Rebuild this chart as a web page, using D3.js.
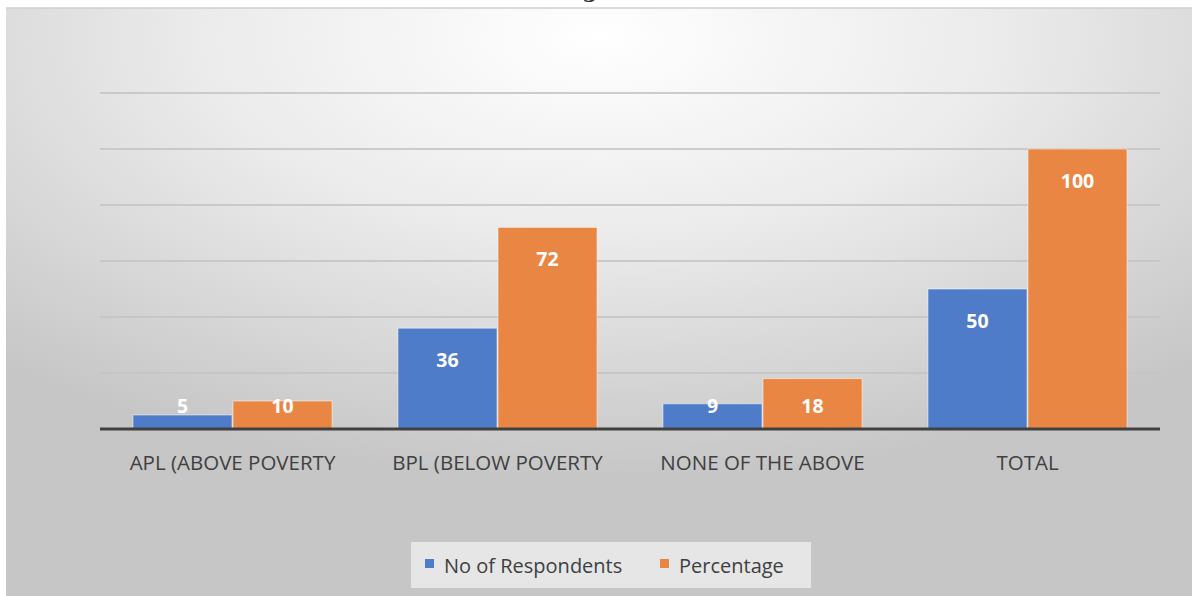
<!DOCTYPE html>
<html><head><meta charset="utf-8">
<script src="https://cdn.jsdelivr.net/npm/d3@7"></script>
<style>html,body{margin:0;padding:0;background:#fff;overflow:hidden}</style>
</head><body>
<svg id="chart" width="1192" height="596"></svg>
<script>
const categories = ["APL (ABOVE POVERTY", "BPL (BELOW POVERTY", "NONE OF THE ABOVE", "TOTAL"];
const seriesNames = ["No of Respondents", "Percentage"];
const respondents = [5, 36, 9, 50];
const percentage = [10, 72, 18, 100];
const yTicks = [0, 20, 40, 60, 80, 100, 120];
const colors = ["#4f7cc9", "#ea8644"];

const svg = d3.select("#chart");
const defs = svg.append("defs");
const grad = defs.append("radialGradient").attr("id","bg")
  .attr("cx","50%").attr("cy","5%").attr("r","75%").attr("fx","50%").attr("fy","5%");
grad.append("stop").attr("offset","0%").attr("stop-color","#ffffff");
grad.append("stop").attr("offset","45%").attr("stop-color","#ebebeb");
grad.append("stop").attr("offset","100%").attr("stop-color","#c6c6c6");

svg.append("rect").attr("x",0).attr("y",0).attr("width",1192).attr("height",596).attr("fill","#fff");
svg.append("text").attr("x",590).attr("y",-3).attr("text-anchor","middle")
  .attr("font-family","DejaVu Serif").attr("font-weight","bold").attr("font-size",22).attr("fill","#333").text("g");
svg.append("rect").attr("x",6).attr("y",8).attr("width",1186).attr("height",588).attr("fill","url(#bg)");
svg.append("line").attr("x1",6).attr("x2",1192).attr("y1",8).attr("y2",8).attr("stroke","#cfcfcf").attr("stroke-width",1.5);

const x0 = d3.scaleBand().domain(categories).range([100,1160]).paddingInner(0.245).paddingOuter(0.1225);
const x1 = d3.scaleBand().domain(seriesNames).range([0, x0.bandwidth()]).padding(0);
const y = d3.scaleLinear().domain([0,120]).range([429,93]);

const grid = svg.append("g");
grid.selectAll("line").data(yTicks.slice(1)).join("line")
  .attr("x1",100).attr("x2",1160).attr("y1",d=>y(d)).attr("y2",d=>y(d))
  .attr("stroke","#c4c4c4").attr("stroke-opacity",0.85).attr("stroke-width",2);

const data = categories.map((c,i)=>({cat:c, vals:[respondents[i], percentage[i]]}));
const groups = svg.append("g").selectAll("g").data(data).join("g")
  .attr("transform", d=>`translate(${x0(d.cat)},0)`);
groups.selectAll("rect").data(d=>d.vals.map((v,j)=>({v, s:seriesNames[j], j}))).join("rect")
  .attr("x", d=>x1(d.s)+0.5).attr("width", x1.bandwidth()-1)
  .attr("y", d=>y(d.v)).attr("height", d=>y(0)-y(d.v))
  .attr("fill", d=>colors[d.j]).attr("stroke","#ffffff").attr("stroke-opacity",0.5).attr("stroke-width",1);
groups.selectAll("text").data(d=>d.vals.map((v,j)=>({v, s:seriesNames[j], j}))).join("text")
  .attr("x", d=>x1(d.s)+x1.bandwidth()/2)
  .attr("y", d=>Math.min(y(d.v)+32, y(0)-23))
  .attr("dy","0.35em").attr("text-anchor","middle")
  .attr("font-family","Open Sans, sans-serif").attr("font-weight","bold").attr("font-size",19.5)
  .attr("fill","#fff").text(d=>d.v);

svg.append("line").attr("x1",100).attr("x2",1160).attr("y1",y(0)).attr("y2",y(0))
  .attr("stroke","#404040").attr("stroke-width",3);

const xAxis = svg.append("g").attr("transform",`translate(0,${y(0)})`)
  .call(d3.axisBottom(x0).tickSize(0).tickPadding(26));
xAxis.select(".domain").remove();
xAxis.selectAll("text").attr("font-family","Open Sans, sans-serif").attr("font-size",20.5).attr("fill","#404040");

// legend
const lg = svg.append("g");
lg.append("rect").attr("x",411).attr("y",542).attr("width",400).attr("height",46).attr("fill","#e6e6e6");
const items = [{n:seriesNames[0], c:colors[0], x:425},{n:seriesNames[1], c:colors[1], x:660}];
items.forEach(it=>{
  lg.append("rect").attr("x",it.x).attr("y",559).attr("width",9).attr("height",9).attr("fill",it.c);
  lg.append("text").attr("x",it.x+19).attr("y",566).attr("dy","0.35em")
    .attr("font-family","Open Sans, sans-serif").attr("font-size",20).attr("fill","#404040").text(it.n);
});
</script>
</body></html>
